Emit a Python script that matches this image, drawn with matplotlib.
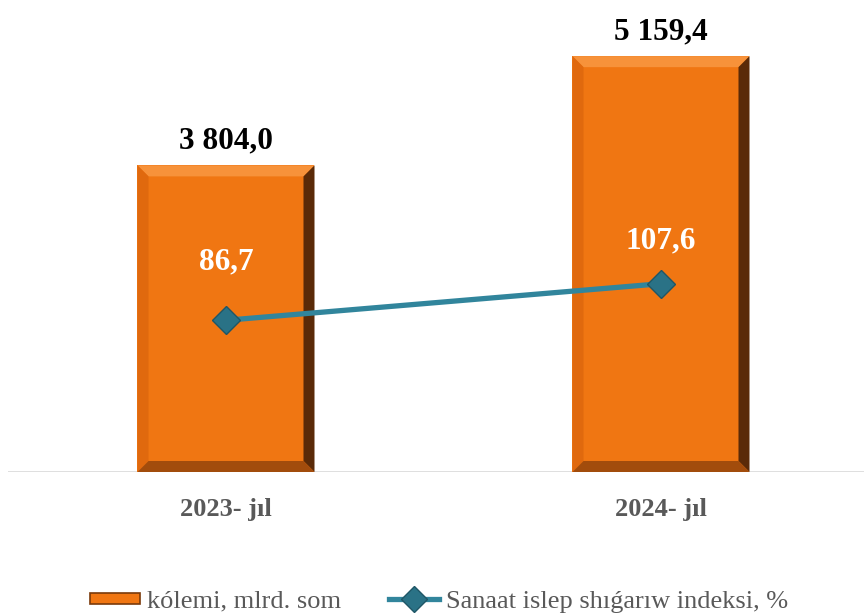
import matplotlib.pyplot as plt
from matplotlib.patches import Polygon, Rectangle
from matplotlib.lines import Line2D
from matplotlib.legend_handler import HandlerPatch

years = ["2023- jıl", "2024- jıl"]
volume = [3804.0, 5159.4]
index_pct = [86.7, 107.6]
volume_labels = ["3 804,0", "5 159,4"]
index_labels = ["86,7", "107,6"]

plt.rcParams["font.family"] = ["Liberation Serif", "DejaVu Serif"]

W, H = 864, 616
fig = plt.figure(figsize=(W / 100, H / 100), dpi=100)
# axes in pixel terms: left 8, right 864, bottom 472 (from top), top 10
ax = fig.add_axes([8 / W, (H - 472) / H, (W - 8) / W, (472 - 10) / H])
ax2 = ax.twinx()

ppx = 435.0  # px per x unit
ax.set_xlim(-(226 - 8) / ppx, 1 + (864 - 661) / ppx)
ax.set_ylim(0, 462 / 0.0806)
ax2.set_ylim(0, 462 / 1.75)

orange = "#F07612"
bw = 177 / ppx
bev_x = 11 / ppx
bev_y = 11 * ax.get_ylim()[1] / 462

for i, v in enumerate(volume):
    x0, x1 = i - bw / 2, i + bw / 2
    ax.add_patch(Rectangle((x0, 0), bw, v, facecolor=orange, edgecolor="none", zorder=2))
    ix0, ix1, iy0, iy1 = x0 + bev_x, x1 - bev_x, bev_y, v - bev_y
    # bevel faces
    ax.add_patch(Polygon([(x0, v), (x1, v), (ix1, iy1), (ix0, iy1)], closed=True,
                         facecolor="#F7923A", edgecolor="none", zorder=3))
    ax.add_patch(Polygon([(x0, 0), (x0, v), (ix0, iy1), (ix0, iy0)], closed=True,
                         facecolor="#E0690E", edgecolor="none", zorder=3))
    ax.add_patch(Polygon([(x1, 0), (x1, v), (ix1, iy1), (ix1, iy0)], closed=True,
                         facecolor="#5A2A08", edgecolor="none", zorder=3))
    ax.add_patch(Polygon([(x0, 0), (x1, 0), (ix1, iy0), (ix0, iy0)], closed=True,
                         facecolor="#A24C0C", edgecolor="none", zorder=3))
    ax.annotate(volume_labels[i], (i, v), xytext=(0, 7), textcoords="offset points",
                ha="center", va="bottom", fontsize=22.5, fontweight="bold",
                color="black", zorder=6)

teal = "#31859C"
ax2.plot(range(len(index_pct)), index_pct, color=teal, lw=3.8, zorder=4,
         marker="D", markersize=14, markerfacecolor="#2A7286",
         markeredgecolor="#1F5666", markeredgewidth=1)
offsets = [58, 43]
for i, v in enumerate(index_pct):
    ax2.annotate(index_labels[i], (i, v), xytext=(0, offsets[i] * 0.72),
                 textcoords="offset points", ha="center", va="center",
                 fontsize=22.5, fontweight="bold", color="white", zorder=6)

ax.set_xticks(range(len(years)))
ax.set_xticklabels(years, fontsize=19, fontweight="bold", color="#595959")
ax.tick_params(axis="x", length=0, pad=19)
ax.set_yticks([])
ax2.set_yticks([])
for a in (ax, ax2):
    for s in a.spines.values():
        s.set_visible(False)
ax.axhline(0, color="#D9D9D9", lw=1.2, zorder=1)
ax.set_zorder(1)
ax2.set_zorder(2)
ax2.patch.set_visible(False)


class BevelHandler(HandlerPatch):
    def create_artists(self, legend, orig_handle, xdescent, ydescent, width, height, fontsize, trans):
        r = Rectangle((-xdescent, -ydescent + height * 0.2), width, height * 0.6,
                      facecolor=orange, edgecolor="#7A3A0A", lw=1.2, transform=trans)
        return [r]


bar_handle = Rectangle((0, 0), 1, 1, facecolor=orange)
line_handle = Line2D([], [], color=teal, lw=3.8, marker="D", markersize=13,
                     markerfacecolor="#2A7286", markeredgecolor="#1F5666")
fig.legend([bar_handle, line_handle], ["kólemi, mlrd. som", "Sanaat islep shıǵarıw indeksi, %"],
           loc="center", bbox_to_anchor=(0.508, 1 - 601 / H), ncol=2, frameon=False,
           fontsize=19, labelcolor="#595959", handlelength=1.9, handletextpad=0.27,
           columnspacing=1.8, handler_map={Rectangle: BevelHandler()})

fig.savefig("out.png", dpi=100)
